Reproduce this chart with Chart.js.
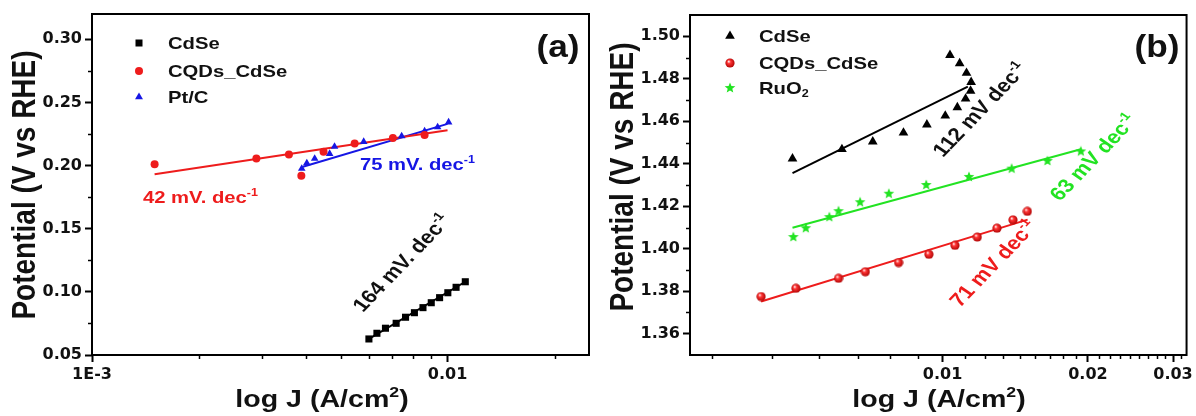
<!DOCTYPE html>
<html>
<head>
<meta charset="utf-8">
<script src="https://cdn.jsdelivr.net/npm/chart.js@4.4.1/dist/chart.umd.min.js"></script>
<style>
  body { margin: 0; background: #fff; }
  #wrap { position: relative; width: 1196px; height: 416px; }
  .pan { position: absolute; top: 0; width: 598px; height: 416px; }
</style>
</head>
<body>
<div id="wrap">
  <div class="pan" style="left:0"><canvas id="grafA"></canvas></div>
  <div class="pan" style="left:598px"><canvas id="grafB"></canvas></div>
</div>
<script>
// Painel (a) - HER
const aCdSeX = [0.00601, 0.00633, 0.00669, 0.00717, 0.00762, 0.00807, 0.00853, 0.00900, 0.00950, 0.01002, 0.01057, 0.01122];
const aCdSeY = [0.0627, 0.0672, 0.0712, 0.0751, 0.0799, 0.0835, 0.0875, 0.0914, 0.0954, 0.0993, 0.1036, 0.1080];
const aCqdX = [0.00150, 0.00290, 0.00358, 0.00388, 0.00448, 0.00548, 0.00702, 0.00862];
const aCqdY = [0.2011, 0.2056, 0.2088, 0.1919, 0.2109, 0.2175, 0.2219, 0.2241];
const aPtX = [0.00389, 0.00402, 0.00423, 0.00466, 0.00481, 0.00581, 0.00743, 0.00862, 0.00938, 0.01007];
const aPtY = [0.1976, 0.2019, 0.2055, 0.2094, 0.2150, 0.2189, 0.2233, 0.2272, 0.2304, 0.2343];

// retas de Tafel (a)
const aFitCdSeX = [0.00601, 0.01122];
const aFitCdSeY = [0.0627, 0.1080];
const aFitCqdX = [0.00150, 0.0100];
const aFitCqdY = [0.1932, 0.2280];
const aFitPtX = [0.00392, 0.0100];
const aFitPtY = [0.1990, 0.2330];

// eixos (a)
const aXMajor = [0.001, 0.01];
const aXLabels = ['1E-3', '0.01'];
const aXMinor = [0.002, 0.003, 0.004, 0.005, 0.006, 0.007, 0.008, 0.009, 0.02];
const aYMajor = [0.05, 0.10, 0.15, 0.20, 0.25, 0.30];
const aYMinor = [0.075, 0.125, 0.175, 0.225, 0.275];

// Painel (b) - OER
const bCdSeX = [0.00489, 0.00619, 0.00717, 0.00830, 0.00928, 0.01013, 0.01073, 0.01116, 0.01143, 0.01146, 0.01121, 0.01085, 0.01036];
const bCdSeY = [1.4424, 1.4468, 1.4504, 1.4546, 1.4584, 1.4626, 1.4665, 1.4706, 1.4743, 1.4784, 1.4827, 1.4872, 1.4911];
const bCqdX = [0.00421, 0.00497, 0.00609, 0.00692, 0.00811, 0.00937, 0.01061, 0.01180, 0.01296, 0.01399, 0.01498];
const bCqdY = [1.3775, 1.3814, 1.3861, 1.3892, 1.3935, 1.3974, 1.4016, 1.4055, 1.4097, 1.4136, 1.4176];
const bRuX = [0.00491, 0.00521, 0.00583, 0.00609, 0.00675, 0.00774, 0.00925, 0.01134, 0.01390, 0.01649, 0.01933];
const bRuY = [1.4055, 1.4097, 1.4149, 1.4177, 1.4219, 1.4259, 1.4300, 1.4338, 1.4377, 1.4413, 1.4458];

// retas de Tafel (b)
const bFitCdSeX = [0.00489, 0.01128];
const bFitCdSeY = [1.4356, 1.4763];
const bFitCqdX = [0.00421, 0.01500];
const bFitCqdY = [1.3752, 1.4137];
const bFitRuX = [0.00489, 0.01933];
const bFitRuY = [1.4099, 1.4468];

// eixos (b)
const bXMajor = [0.01, 0.02, 0.03];
const bXLabels = ['0.01', '0.02', '0.03'];
const bXMinor = [0.00333, 0.00444, 0.00556, 0.00667, 0.00778, 0.00889,
  0.01111, 0.01222, 0.01333, 0.01444, 0.01556, 0.01667, 0.01778, 0.01889,
  0.02111, 0.02222, 0.02333, 0.02444, 0.02556, 0.02667, 0.02778, 0.02889, 0.03111];
const bYMajor = [1.36, 1.38, 1.40, 1.42, 1.44, 1.46, 1.48, 1.50];
const bYMinor = [1.37, 1.39, 1.41, 1.43, 1.45, 1.47, 1.49];

const VERMELHO = '#ee1c1c';
const AZUL = '#1616e4';
const VERDE = '#22e322';
const FAMILIA = '"Liberation Sans", Arial, sans-serif';
const ESTICA = 1.19; // a figura original esta esticada na horizontal

function pares(xs, ys) {
  return xs.map((x, i) => ({ x: x, y: ys[i] }));
}

// bolinha vermelha com brilho (CQDs_CdSe do painel b)
function esfera() {
  const c = document.createElement('canvas');
  c.width = 10; c.height = 10;
  const g = c.getContext('2d');
  const rg = g.createRadialGradient(3.6, 3.4, 0.4, 5, 5, 5);
  rg.addColorStop(0, '#ffe4e4');
  rg.addColorStop(0.3, '#ff3434');
  rg.addColorStop(1, '#a80000');
  g.fillStyle = rg;
  g.beginPath(); g.arc(5, 5, 4.6, 0, Math.PI * 2); g.fill();
  return c;
}

function estrela(cor) {
  const c = document.createElement('canvas');
  c.width = 12; c.height = 12;
  const g = c.getContext('2d');
  g.fillStyle = cor;
  g.beginPath();
  for (let k = 0; k < 10; k++) {
    const r = k % 2 ? 2.4 : 5.6;
    const a = -Math.PI / 2 + k * Math.PI / 5;
    g.lineTo(6 + r * Math.cos(a), 6 + r * Math.sin(a));
  }
  g.closePath(); g.fill();
  return c;
}

const imgEsfera = esfera();
const imgEstrela = estrela(VERDE);

function escrever(ctx, t) {
  ctx.save();
  ctx.translate(t.x, t.y);
  ctx.scale(t.sx || ESTICA, 1);
  if (t.rot) ctx.rotate(t.rot);
  ctx.fillStyle = t.color || '#111';
  ctx.textBaseline = t.base || 'alphabetic';
  ctx.textAlign = 'left';
  const tam = p => (p[1] ? t.size * 0.62 : t.size);
  let w = 0;
  t.parts.forEach(p => { ctx.font = 'bold ' + tam(p) + 'px ' + FAMILIA; w += ctx.measureText(p[0]).width; });
  let cx = t.align === 'center' ? -w / 2 : 0;
  t.parts.forEach(p => {
    ctx.font = 'bold ' + tam(p) + 'px ' + FAMILIA;
    const dy = p[1] === 'sup' ? -t.size * 0.42 : (p[1] === 'sub' ? t.size * 0.28 : 0);
    ctx.fillText(p[0], cx, dy);
    cx += ctx.measureText(p[0]).width;
  });
  ctx.restore();
}

function simbolo(ctx, tipo, x, y, cor) {
  ctx.fillStyle = cor;
  ctx.beginPath();
  if (tipo === 'rect') {
    ctx.fillRect(x - 3.5, y - 3.5, 7, 7);
  } else if (tipo === 'circle') {
    ctx.arc(x, y, 4, 0, Math.PI * 2); ctx.fill();
  } else if (tipo === 'triangle') {
    const r = cor === '#000' ? 5.6 : 4.6;
    ctx.moveTo(x, y - r);
    ctx.lineTo(x + r * 0.866, y + r / 2);
    ctx.lineTo(x - r * 0.866, y + r / 2);
    ctx.closePath(); ctx.fill();
  } else {
    ctx.drawImage(tipo, x - tipo.width / 2, y - tipo.height / 2);
  }
}

// moldura, ticks menores, legenda e textos
function decoracao(cfg) {
  return {
    id: 'decoracao',
    afterDraw(chart) {
      const ctx = chart.ctx, ca = chart.chartArea;
      const xs = chart.scales.x, ys = chart.scales.y;
      ctx.save();
      ctx.strokeStyle = '#000';
      ctx.lineWidth = 1.5;
      cfg.xMinor.forEach(v => {
        const px = Math.round(xs.getPixelForValue(v)) + 0.5;
        ctx.beginPath(); ctx.moveTo(px, ca.bottom); ctx.lineTo(px, ca.bottom + 4); ctx.stroke();
      });
      cfg.yMinor.forEach(v => {
        const py = Math.round(ys.getPixelForValue(v)) + 0.5;
        ctx.beginPath(); ctx.moveTo(ca.left, py); ctx.lineTo(ca.left - 4, py); ctx.stroke();
      });
      ctx.lineWidth = 2;
      ctx.strokeRect(ca.left, ca.top, ca.right - ca.left, ca.bottom - ca.top);

      cfg.legenda.forEach(l => {
        simbolo(ctx, l.tipo, l.x, l.y, l.cor);
        escrever(ctx, { x: l.x + 29, y: l.y + 1, parts: l.parts, size: 17, base: 'middle' });
      });
      cfg.textos.forEach(t => escrever(ctx, t));
      ctx.restore();
    }
  };
}

function montar(id, datasets, e, decor) {
  const fonteTick = { family: '"DejaVu Sans"', size: 16, weight: 'bold' };
  const grade = { display: true, drawOnChartArea: false, drawTicks: true, tickLength: 7, tickWidth: 2, tickColor: '#000' };
  return new Chart(document.getElementById(id), {
    type: 'scatter',
    data: { datasets: datasets },
    options: {
      responsive: true,
      maintainAspectRatio: false,
      animation: false,
      events: [],
      layout: { padding: { top: e.top, right: 9, left: 0, bottom: 0 } },
      plugins: { legend: { display: false }, tooltip: { enabled: false } },
      scales: {
        x: {
          type: 'logarithmic',
          min: e.xMin,
          max: e.xMax,
          afterBuildTicks: s => { s.ticks = e.xMajor.map(v => ({ value: v })); },
          afterFit: s => { s.height = 61; },
          ticks: { autoSkip: false, maxRotation: 0, minRotation: 0, padding: 3, color: '#111', font: fonteTick,
            callback: (v, i) => e.xLabels[i] },
          grid: grade,
          border: { display: false }
        },
        y: {
          type: 'linear',
          min: e.yMin,
          max: e.yMax,
          afterBuildTicks: s => { s.ticks = e.yMajor.map(v => ({ value: v })); },
          afterFit: s => { s.width = 92; },
          ticks: { autoSkip: false, padding: 3, color: '#111', font: fonteTick,
            callback: v => Number(v).toFixed(2) },
          grid: grade,
          border: { display: false }
        }
      }
    },
    plugins: [decor]
  });
}

function reta(xs, ys, cor) {
  return { data: pares(xs, ys), showLine: true, pointRadius: 0, borderColor: cor, borderWidth: 2 };
}

// inclinação visual de ~46 graus, corrigida pelo esticamento
const ROT = -Math.atan(ESTICA * Math.tan(46 * Math.PI / 180));

const graficoA = montar('grafA', [
  { data: pares(aCdSeX, aCdSeY), pointStyle: 'rect', pointRadius: 5, pointBackgroundColor: '#000', pointBorderWidth: 0 },
  { data: pares(aCqdX, aCqdY), pointStyle: 'circle', pointRadius: 4, pointBackgroundColor: VERMELHO, pointBorderWidth: 0 },
  { data: pares(aPtX, aPtY), pointStyle: 'triangle', pointRadius: 4.4, pointBackgroundColor: AZUL, pointBorderWidth: 0 },
  reta(aFitCqdX, aFitCqdY, VERMELHO),
  reta(aFitPtX, aFitPtY, AZUL),
  reta(aFitCdSeX, aFitCdSeY, '#000')
], { top: 14, xMin: 0.001, xMax: 0.025, yMin: 0.05, yMax: 0.32, xMajor: aXMajor, xLabels: aXLabels, yMajor: aYMajor },
decoracao({
  xMinor: aXMinor, yMinor: aYMinor,
  legenda: [
    { tipo: 'rect', x: 139, y: 43, cor: '#000', parts: [['CdSe']] },
    { tipo: 'circle', x: 139, y: 71, cor: VERMELHO, parts: [['CQDs_CdSe']] },
    { tipo: 'triangle', x: 139, y: 97, cor: AZUL, parts: [['Pt/C']] }
  ],
  textos: [
    { x: 26, y: 185, parts: [['Potential (V vs RHE)']], size: 28, rot: -Math.PI / 2, align: 'center', base: 'middle' },
    { x: 322, y: 407, parts: [['log J (A/cm'], ['2', 'sup'], [')']], size: 24, align: 'center' },
    { x: 558, y: 48, parts: [['(a)']], size: 32, sx: 1.1, align: 'center', base: 'middle' },
    { x: 143, y: 203, parts: [['42 mV. dec'], ['-1', 'sup']], size: 17, color: VERMELHO },
    { x: 360, y: 170, parts: [['75 mV. dec'], ['-1', 'sup']], size: 17, color: AZUL },
    { x: 363, y: 313, parts: [['164 mV. dec'], ['-1', 'sup']], size: 19, rot: ROT }
  ]
}));

const graficoB = montar('grafB', [
  { data: pares(bCdSeX, bCdSeY), pointStyle: 'triangle', pointRadius: 5.6, pointBackgroundColor: '#000', pointBorderWidth: 0 },
  { data: pares(bCqdX, bCqdY), pointStyle: imgEsfera },
  { data: pares(bRuX, bRuY), pointStyle: imgEstrela },
  reta(bFitCdSeX, bFitCdSeY, '#000'),
  reta(bFitCqdX, bFitCqdY, VERMELHO),
  reta(bFitRuX, bFitRuY, VERDE)
], { top: 15, xMin: 0.003, xMax: 0.032, yMin: 1.35, yMax: 1.51, xMajor: bXMajor, xLabels: bXLabels, yMajor: bYMajor },
decoracao({
  xMinor: bXMinor, yMinor: bYMinor,
  legenda: [
    { tipo: 'triangle', x: 132, y: 36, cor: '#000', parts: [['CdSe']] },
    { tipo: imgEsfera, x: 132, y: 63, cor: VERMELHO, parts: [['CQDs_CdSe']] },
    { tipo: imgEstrela, x: 132, y: 88, cor: VERDE, parts: [['RuO'], ['2', 'sub']] }
  ],
  textos: [
    { x: 26, y: 177, parts: [['Potential (V vs RHE)']], size: 28, rot: -Math.PI / 2, align: 'center', base: 'middle' },
    { x: 341, y: 407, parts: [['log J (A/cm'], ['2', 'sup'], [')']], size: 24, align: 'center' },
    { x: 559, y: 48, parts: [['(b)']], size: 32, sx: 1.1, align: 'center', base: 'middle' },
    { x: 345, y: 158, parts: [['112 mV dec'], ['-1', 'sup']], size: 19, rot: ROT },
    { x: 462, y: 202, parts: [['63 mV dec'], ['-1', 'sup']], size: 19, rot: ROT, color: VERDE },
    { x: 362, y: 308, parts: [['71 mV dec'], ['-1', 'sup']], size: 19, rot: ROT, color: VERMELHO }
  ]
}));
</script>
</body>
</html>
